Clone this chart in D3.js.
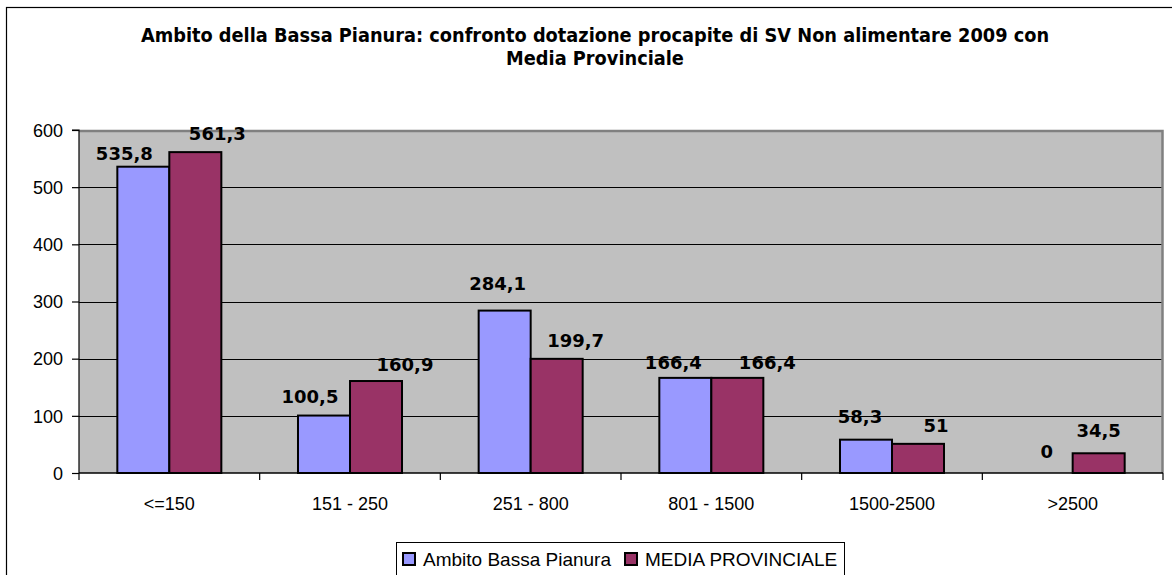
<!DOCTYPE html>
<html><head><meta charset="utf-8">
<script src="https://cdn.jsdelivr.net/npm/d3@7/dist/d3.min.js"></script>
<style>
html,body{margin:0;padding:0;background:#fff;}
svg{display:block;}
</style>
</head><body>
<svg id="chart" width="1172" height="575"></svg>
<script>
// ---- data ----
const titleLines = ["Ambito della Bassa Pianura: confronto dotazione procapite di SV Non alimentare 2009 con", "Media Provinciale"];
const categories = ["<=150", "151 - 250", "251 - 800", "801 - 1500", "1500-2500", ">2500"];
const seriesNames = ["Ambito Bassa Pianura", "MEDIA PROVINCIALE"];
const ambitoValues = [535.8, 100.5, 284.1, 166.4, 58.3, 0];
const mediaValues = [561.3, 160.9, 199.7, 166.4, 51, 34.5];
const yTicks = [0, 100, 200, 300, 400, 500, 600];
const valueLabelsA = ["535,8", "100,5", "284,1", "166,4", "58,3", "0"];
const valueLabelsB = ["561,3", "160,9", "199,7", "166,4", "51", "34,5"];
// label nudges (layout only)
const nudgeDxA = [-19, -14, -7, -12, -6, 0];
const nudgeGapA = [7, 13, 21, 9, 17, 15];
const nudgeDxB = [22, 29, 19, 30, 18, 0];
const nudgeGapB = [12, 10, 12, 9, 12, 16];

const colors = ["#9999FF", "#993366"];

const svg = d3.select("#chart");
const W = 1172, H = 575;
const plot = {left: 79, right: 1163, top: 130, bottom: 473};

// outer chart border
svg.append("rect").attr("x", 6.5).attr("y", 7.5).attr("width", W + 10).attr("height", H + 10)
  .attr("fill", "#fff").attr("stroke", "#000").attr("stroke-width", 1.2);

// title
const titleG = svg.append("g");
const tFont = "'DejaVu Sans Condensed', 'DejaVu Sans', sans-serif";
const lFont = "'DejaVu Sans', Verdana, sans-serif";
const t1 = titleG.append("text").attr("x", 595).attr("y", 42).attr("text-anchor", "middle")
  .attr("font-family", tFont).attr("font-weight", "bold").attr("font-size", 17).text(titleLines[0]);
const w1 = t1.node().getComputedTextLength();
const fs = 17 * 909 / w1;
t1.attr("font-size", fs);
titleG.append("text").attr("x", 595).attr("y", 65).attr("text-anchor", "middle")
  .attr("font-family", tFont).attr("font-weight", "bold").attr("font-size", fs).text(titleLines[1]);

// scales
const x0 = d3.scaleBand().domain(categories).range([plot.left, plot.right]).padding(0);
const x1 = d3.scaleBand().domain(seriesNames).range([0, x0.bandwidth()]).paddingInner(0).paddingOuter(0.737);
const y = d3.scaleLinear().domain([0, 600]).range([plot.bottom, plot.top]);

// plot area
svg.append("rect").attr("x", plot.left).attr("y", plot.top).attr("width", plot.right - plot.left)
  .attr("height", plot.bottom - plot.top).attr("fill", "#C0C0C0");
// gridlines
svg.append("g").selectAll("line").data(yTicks.filter(d => d > 0 && d < 600)).join("line")
  .attr("x1", plot.left).attr("x2", plot.right).attr("y1", d => Math.round(y(d)) + 0.5).attr("y2", d => Math.round(y(d)) + 0.5)
  .attr("stroke", "#000").attr("stroke-width", 1);
// top / right gray border
svg.append("path").attr("d", `M${plot.left},${plot.top + 1}H${plot.right - 0.5}V${plot.bottom}`)
  .attr("fill", "none").attr("stroke", "#808080").attr("stroke-width", 2.5);

// bars
const seriesData = [ambitoValues, mediaValues];
const gBars = svg.append("g");
seriesData.forEach((vals, si) => {
  gBars.selectAll(".bar" + si).data(vals.map((v, i) => ({v, c: categories[i]}))).join("rect")
    .filter(d => d.v > 0)
    .attr("x", d => x0(d.c) + x1(seriesNames[si]))
    .attr("y", d => y(d.v))
    .attr("width", x1.bandwidth())
    .attr("height", d => y(0) - y(d.v))
    .attr("fill", colors[si]).attr("stroke", "#000").attr("stroke-width", 2);
});

// axes
const yAxis = d3.axisLeft(y).tickValues(yTicks).tickSize(7).tickPadding(9).tickFormat(d3.format("d"));
const gy = svg.append("g").attr("transform", `translate(${plot.left},0)`).call(yAxis);
gy.select(".domain").attr("stroke", "#000").attr("stroke-width", 1.2).attr("d", `M-7,${plot.top}H0V${plot.bottom}`);
gy.selectAll(".tick line").attr("stroke", "#000").attr("stroke-width", 1.2);
gy.selectAll(".tick text").attr("font-family", "'Liberation Sans', Arial, sans-serif").attr("font-size", 18).attr("fill", "#000").attr("dy", "0.35em");

// x axis
const gx = svg.append("g");
gx.append("line").attr("x1", plot.left).attr("x2", plot.right).attr("y1", plot.bottom).attr("y2", plot.bottom)
  .attr("stroke", "#000").attr("stroke-width", 1.5);
const bounds = categories.map(c => x0(c)).concat([plot.right]);
gx.selectAll(".xt").data(bounds).join("line")
  .attr("x1", d => d).attr("x2", d => d).attr("y1", plot.bottom).attr("y2", plot.bottom + 7)
  .attr("stroke", "#000").attr("stroke-width", 1.2);
gx.selectAll(".xl").data(categories).join("text")
  .attr("x", d => x0(d) + x0.bandwidth() / 2).attr("y", 510).attr("text-anchor", "middle")
  .attr("font-family", "'Liberation Sans', Arial, sans-serif").attr("font-size", 18).attr("fill", "#000")
  .text(d => d);

// value labels
const labelSets = [
  {vals: ambitoValues, labels: valueLabelsA, dx: nudgeDxA, gap: nudgeGapA},
  {vals: mediaValues, labels: valueLabelsB, dx: nudgeDxB, gap: nudgeGapB}
];
labelSets.forEach((s, si) => {
  svg.append("g").selectAll("text").data(s.vals).join("text")
    .attr("x", (d, i) => x0(categories[i]) + x1(seriesNames[si]) + x1.bandwidth() / 2 + s.dx[i])
    .attr("y", (d, i) => y(d) - s.gap[i])
    .attr("text-anchor", "middle")
    .attr("font-family", lFont).attr("font-weight", "bold").attr("font-size", 18).attr("fill", "#000")
    .text((d, i) => s.labels[i]);
});

// legend
const lg = svg.append("g");
lg.append("rect").attr("x", 396.5).attr("y", 542.5).attr("width", 448).attr("height", 40)
  .attr("fill", "#fff").attr("stroke", "#000").attr("stroke-width", 1);
const legendX = [403, 625];
seriesNames.forEach((n, i) => {
  lg.append("rect").attr("x", legendX[i]).attr("y", 553).attr("width", 12).attr("height", 12)
    .attr("fill", colors[i]).attr("stroke", "#000").attr("stroke-width", 2);
  lg.append("text").attr("x", legendX[i] + 20).attr("y", 565.5)
    .attr("font-family", "'Liberation Sans', Arial, sans-serif").attr("font-size", 19).attr("fill", "#000")
    .text(n);
});
</script>
</body></html>
